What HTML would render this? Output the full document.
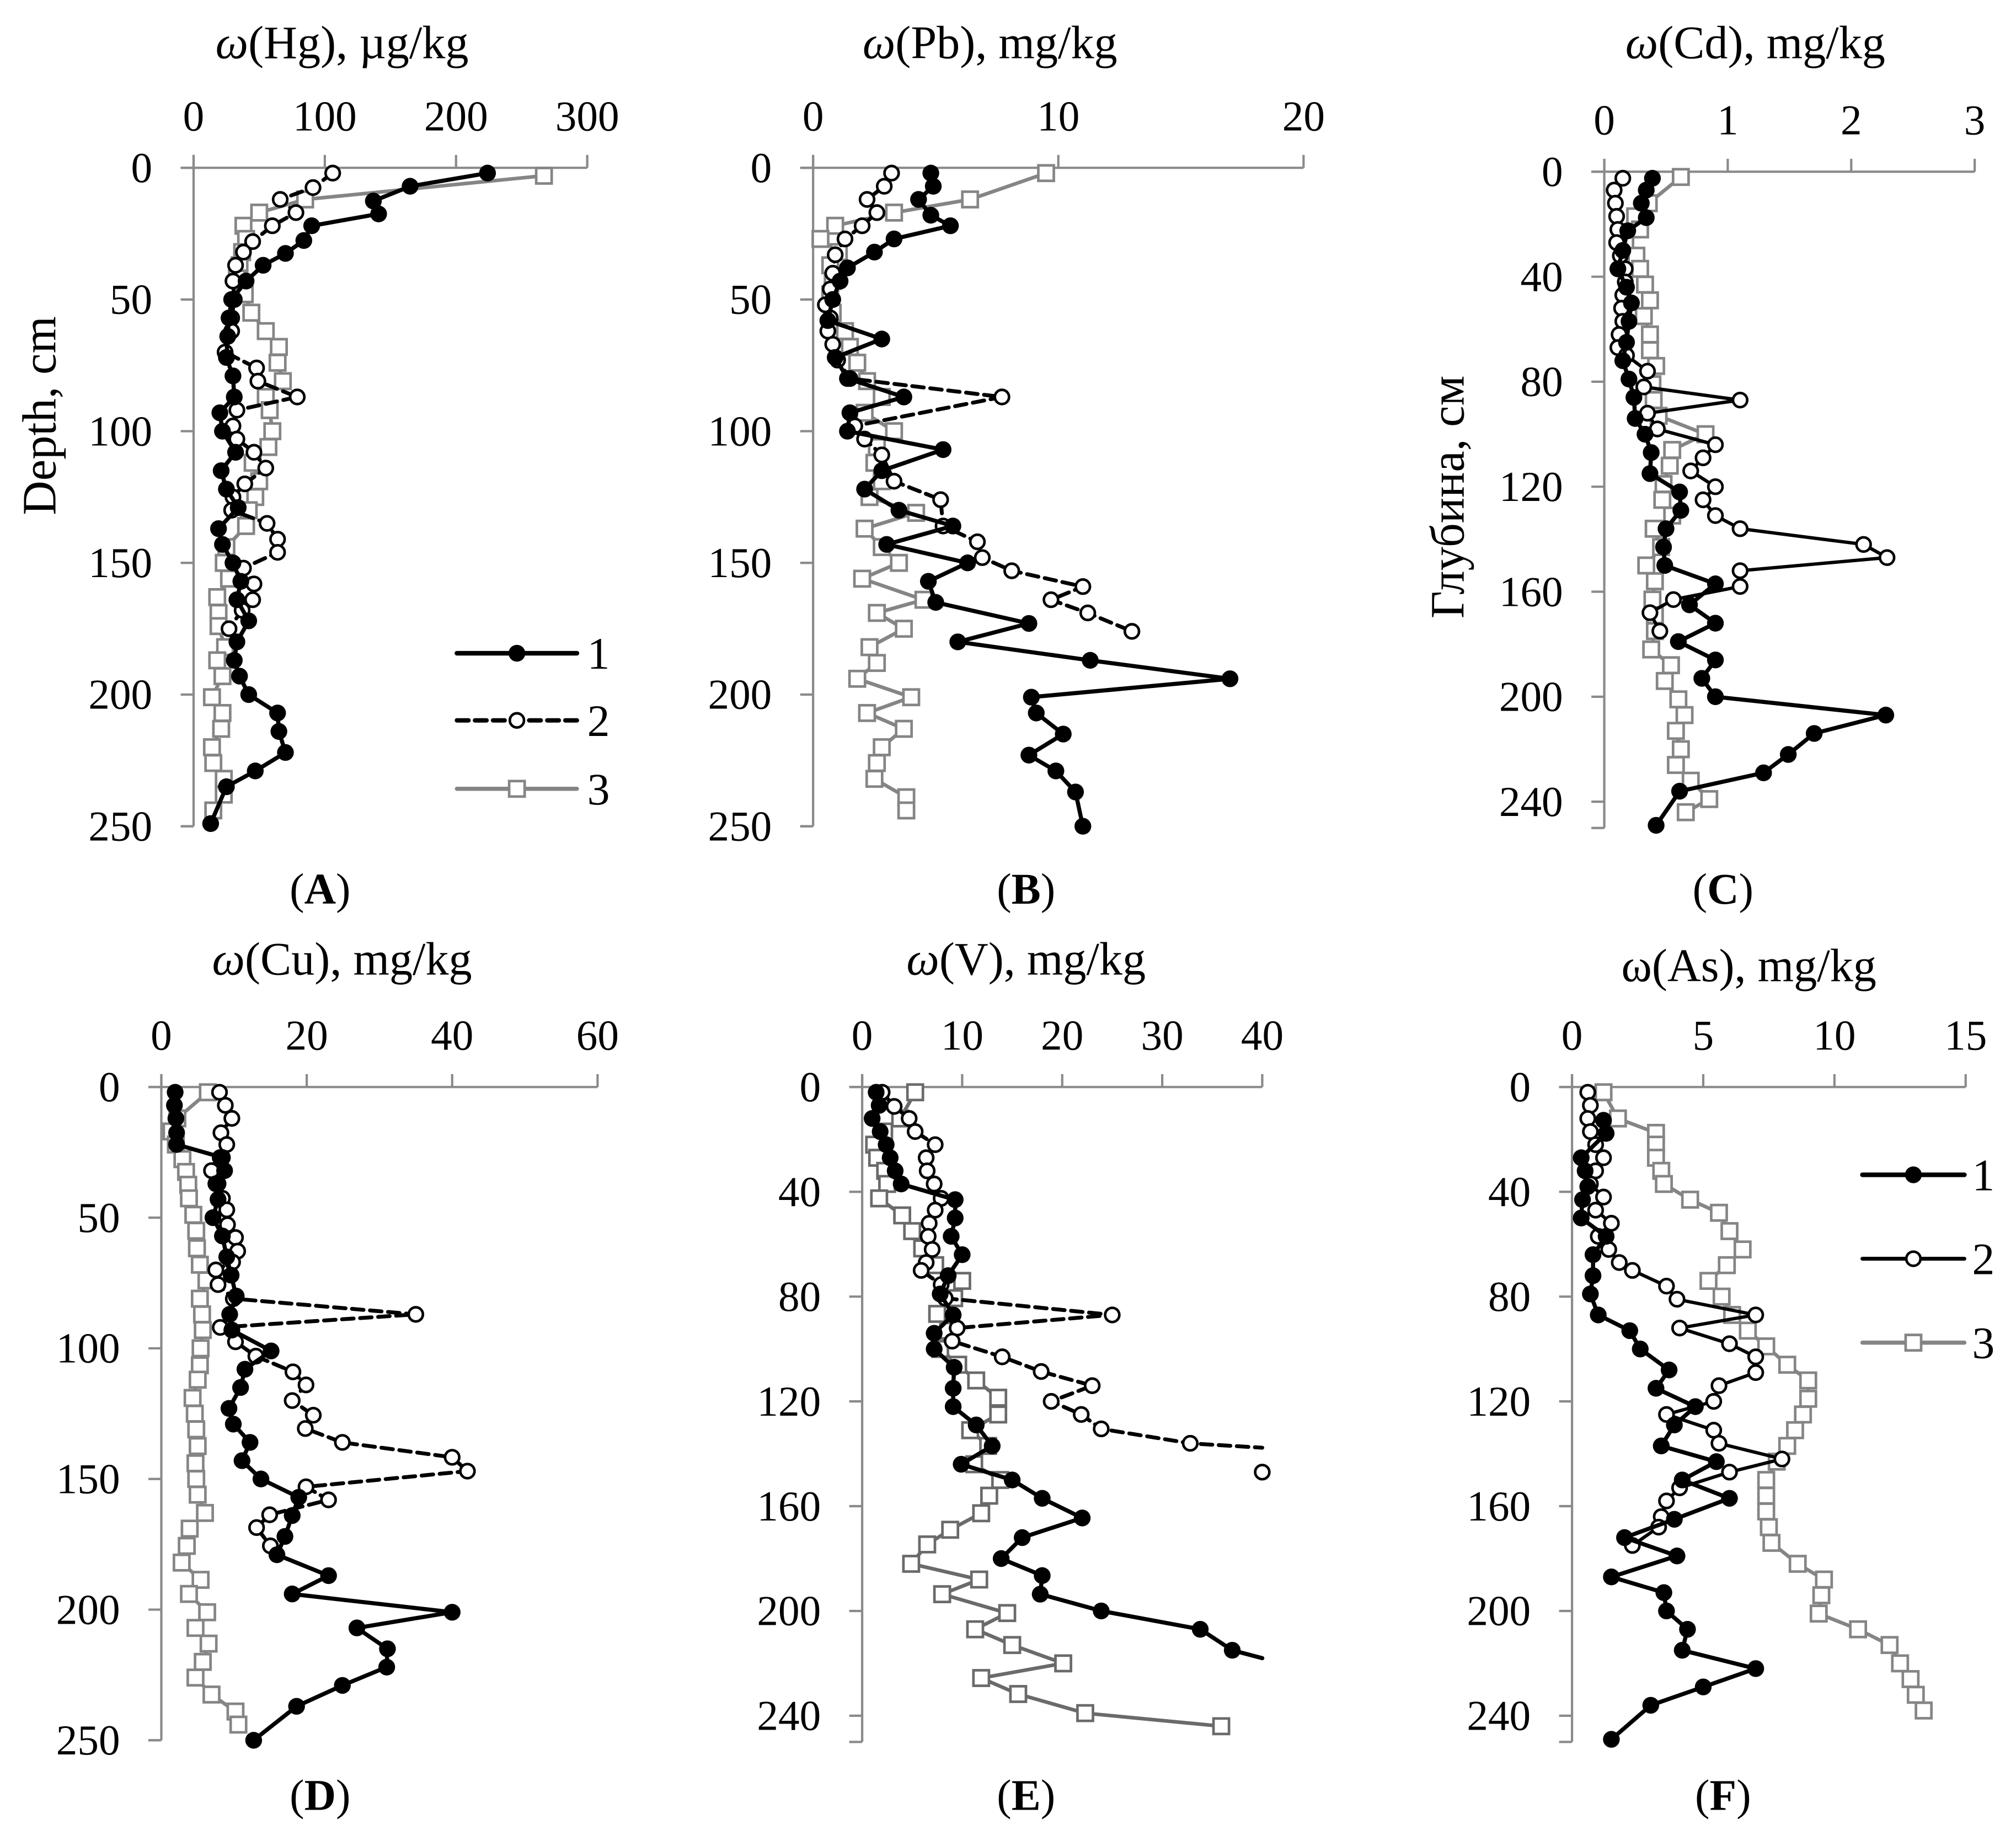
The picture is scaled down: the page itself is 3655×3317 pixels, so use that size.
<!DOCTYPE html>
<html><head><meta charset="utf-8">
<style>
html,body{margin:0;padding:0;background:#fff;}
svg{display:block;}
text{font-family:"Liberation Serif","Noto Serif CJK SC",serif;fill:#000;}
</style></head>
<body>
<svg id="fig" width="3655" height="3317" viewBox="0 0 1562 1417.5" preserveAspectRatio="none" xmlns="http://www.w3.org/2000/svg"></svg>
<script>
// ---- data: [value, depth] ----
const hg1=[[224,2],[165,7],[137,12.6],[141,17.5],[90,22],[84,27.6],[70,32.5],[53,37],[40,43],[29,50],[27,57],[26,64],[25,72],[30,79],[31,87],[20,93],[22,100],[32,108],[21,115],[25,122],[34,129],[19,137],[22,143],[30,150],[36,157],[33,164],[42,172],[33,180],[31,187],[35,193],[42,200],[64,207],[65,214],[70,222],[47,229],[25,235],[13,249]];
const hg2=[[106,2],[91,7.5],[66,12],[78,17],[60,22],[45,28],[38,32],[32,37],[30,43],[31,50],[29,57],[29,62],[24,70],[48,76],[49,81],[79,87],[33,92],[30,98],[33,103],[46,108],[55,114],[39,120],[30,125],[29,130],[56,135],[64,141],[64,146],[38,152],[46,158],[45,164],[37,168],[27,175]];
const hg3=[[267,3],[85,12],[50,17],[38,22],[40,27],[37,32],[35,37],[33,42],[39,48],[44,55],[55,62],[65,68],[64,74],[68,81],[55,87],[58,92],[60,100],[57,106],[45,112],[50,119],[47,125],[42,130],[40,136],[25,144],[23,150],[27,156],[18,163],[19,169],[19,174],[24,182],[18,187],[22,193],[14,201],[22,207],[21,213],[14,220],[15,226],[23,232],[23,238],[15,244]];
const pb1=[[4.8,2],[4.9,7],[4.3,12],[4.8,18],[5.6,22],[3.3,27],[2.5,32],[1.4,38],[1.1,43],[0.8,50],[0.6,58],[2.8,65],[0.9,72],[1.4,80],[3.7,87],[1.5,93],[1.4,100],[5.3,107],[2.8,115],[2.1,122],[3.5,130],[5.7,136],[3.0,143],[6.3,150],[4.7,157],[5.0,165],[8.8,173],[5.9,180],[11.3,187],[17.0,194],[8.9,201],[9.1,207],[10.2,215],[8.8,223],[9.9,229],[10.7,237],[11.0,250]];
const pb2=[[3.2,2],[2.9,7],[2.2,12],[2.6,17],[2.0,22],[1.3,27],[0.9,33],[0.8,40],[0.7,46],[0.5,52],[0.7,57],[0.6,62],[0.8,67],[1.0,73],[1.5,80],[7.7,87],[1.7,98],[2.1,103],[2.8,109],[3.3,119],[5.2,126],[5.3,136],[6.7,142],[6.9,148],[8.1,153],[11.0,159],[9.7,164],[11.2,169],[13.0,176]];
const pb3=[[9.5,2],[6.4,12],[3.3,17],[0.9,22],[0.3,27],[1.05,32],[0.7,37],[0.8,43],[0.7,48],[0.8,55],[1.3,62],[1.5,68],[1.8,74],[2.2,81],[2.8,87],[2.1,93],[3.3,100],[2.6,106],[2.5,112],[2.8,119],[2.3,125],[4.2,131],[2.1,137],[2.8,144],[3.5,150],[2.0,156],[4.5,164],[2.6,169],[3.7,175],[2.3,182],[2.6,188],[1.8,194],[4.0,201],[2.2,207],[3.7,213],[2.8,220],[2.6,226],[2.5,232],[3.8,239],[3.8,244]];
const cd1=[[0.39,2.5],[0.34,7],[0.30,12],[0.34,17.5],[0.19,22.5],[0.15,30],[0.11,37],[0.18,44],[0.22,50],[0.2,57],[0.18,65],[0.15,72],[0.2,79],[0.24,86],[0.25,94],[0.33,100],[0.38,107],[0.37,115],[0.61,122],[0.62,129],[0.5,136],[0.48,143],[0.49,150],[0.9,157],[0.69,165],[0.9,172],[0.6,179],[0.9,186],[0.79,193],[0.9,200],[2.28,207],[1.7,214],[1.49,222],[1.29,229],[0.61,236],[0.42,249]];
const cd2=[[0.15,2.5],[0.08,7],[0.09,12],[0.1,17],[0.11,22],[0.1,27],[0.13,32],[0.17,37],[0.17,42],[0.15,47],[0.14,52],[0.15,57],[0.12,62],[0.11,67],[0.18,70],[0.35,76],[0.32,82],[1.1,87],[0.35,92],[0.43,98],[0.9,104],[0.8,109],[0.7,114],[0.9,120],[0.8,125],[0.9,131],[1.1,136],[2.1,142],[2.29,147],[1.1,152],[1.1,158],[0.56,163],[0.37,168],[0.45,175]];
const cd3=[[0.62,2],[0.36,12],[0.25,17],[0.29,22],[0.17,27],[0.26,32],[0.29,37],[0.33,43],[0.37,49],[0.32,55],[0.37,62],[0.37,68],[0.42,74],[0.39,81],[0.4,87],[0.44,93],[0.82,100],[0.55,106],[0.53,112],[0.48,119],[0.47,125],[0.55,131],[0.4,136],[0.46,143],[0.34,150],[0.41,156],[0.39,163],[0.41,169],[0.41,175],[0.38,182],[0.54,188],[0.49,194],[0.6,201],[0.65,207],[0.58,213],[0.62,220],[0.58,226],[0.7,232],[0.85,239],[0.66,244]];
const cu1=[[1.9,2],[1.8,7],[2.0,12],[2.1,17.5],[2.1,22],[8.4,27],[8.7,32],[7.5,37],[7.8,43],[7.1,50],[8.4,57],[9.0,65],[9.6,72],[10.3,80],[9.4,87],[9.7,93],[15.1,101],[11.5,108],[10.9,115],[9.3,123],[9.9,129],[12.2,136],[11.1,143],[13.7,150],[18.9,157],[18.0,164],[17.0,172],[15.9,179],[23.0,187],[18.0,194],[40,201],[26.9,207],[31.1,215],[31,222],[24.9,229],[18.6,237],[12.7,250]];
const cu2=[[8.0,2],[8.8,7],[9.7,12],[8.2,17.5],[9.0,22],[8.1,27],[6.9,32],[7.8,37],[8.4,42.6],[9.0,47],[9.1,52.7],[10.2,57.6],[10.5,62.8],[9.8,67],[7.5,70],[7.8,75.6],[9.9,81],[35,87],[8.1,92],[10.2,97.5],[13.0,103],[18.1,109],[19.9,114],[18.0,120],[20.9,125.6],[19.8,130.7],[24.9,136],[40,141.7],[42.1,147],[19.9,153],[23.0,158],[14.9,163.7],[13.1,168.6],[15,175.6]];
const cu3=[[6.4,2],[2.2,12],[1.4,17],[2.0,22],[2.9,27.6],[3.4,32.5],[3.7,37.4],[3.8,42.6],[4.4,48.9],[4.8,55],[4.9,61.7],[5.3,68],[6.2,74],[5.3,81],[5.6,87],[5.7,93],[5.4,100],[5.3,106.5],[5.0,112],[4.3,119],[4.6,125],[4.8,131],[5.0,137.4],[4.7,144],[4.8,150],[5.0,156],[6.0,163],[3.9,169],[3.5,175.6],[2.8,182],[5.4,188.6],[3.8,194],[6.3,201],[4.7,207],[6.5,213],[5.7,220],[4.7,226],[6.9,232.5],[10.2,239],[10.6,244]];
const v1=[[1.4,2],[1.7,7],[1.0,12],[1.8,17],[2.4,22],[2.8,27],[3.3,32],[3.9,37],[9.3,43],[9.3,50],[8.9,57],[10,64],[8.6,72],[7.8,79],[9.1,87],[7.2,94],[7.2,100],[9.2,107],[9.1,115],[9.1,122],[11.4,129],[13.0,137],[9.9,144],[15,150],[18,157],[22,164.5],[16,172],[13.9,180],[18,186.5],[17.8,193.6],[23.9,200],[33.8,207],[37,215],[40,218,0]];
const v2=[[2.0,2],[3.2,7.4],[4.7,12],[5.3,17],[7.3,22],[6.4,27],[6.5,32],[7.2,37],[7.9,42.5],[7.3,47],[6.7,52],[6.6,57],[7.0,62],[6.4,67],[5.9,70],[7.9,75.4],[8.3,80.6],[25,87],[9.5,92],[9.0,97],[14,103],[17.9,108.6],[23,114],[18.9,120],[21.9,125],[23.9,130.5],[32.8,136],[40,137.7,0],null,[40,147]];
const v3=[[5.3,2],[3.8,12],[2.2,17],[1.2,22],[1.5,27],[2.3,32],[2.5,37],[1.7,42.5],[4.0,49],[5.0,55],[6.0,61.6],[7.3,68],[10,74],[9.2,80.6],[7.5,86.6],[8.6,93],[7.8,100],[9.6,106],[11.4,112],[13.6,118.6],[13.6,125],[10.8,131],[12.6,137],[11.2,144],[13.8,150],[12.7,156],[11.9,162.7],[8.8,169],[6.5,174.6],[4.9,182],[11.7,188],[8.0,193.6],[14.5,200.8],[11.3,207],[15,213],[20.1,220],[11.9,225.6],[15.6,231.7],[22.3,239],[35.9,244]];
const as1=[[1.2,12.7],[1.3,17.7],[0.35,27],[0.5,32],[0.6,38],[0.4,43],[0.35,50],[1.3,57],[0.8,64],[0.8,72],[0.7,79],[1.0,87],[2.2,93],[2.6,100],[3.7,108],[3.2,115],[4.7,122],[3.9,129],[3.4,137],[5.5,143],[4.2,150],[6.0,157],[3.9,165],[2.0,172],[4.0,179],[1.5,187],[3.5,193],[3.6,200],[4.4,207],[4.2,215],[7.0,222],[5.0,229],[3.0,236],[1.5,249]];
const as2=[[0.6,2],[0.7,7],[0.6,12],[0.7,17],[0.9,22],[1.2,27],[0.9,32],[0.7,37],[1.2,42],[0.9,47],[1.5,52],[1.0,57],[1.4,62],[1.8,67],[2.3,70],[3.6,76],[4.0,81],[7.0,87],[4.1,92],[6.0,98],[7.0,103],[7.0,109],[5.6,114],[5.4,120],[3.6,125],[5.4,131],[5.6,136],[8.0,142],[6.0,147],[4.1,153],[3.6,158],[3.4,164],[3.3,168],[2.3,175]];
const as3=[[1.2,2],[1.75,12],[3.2,17.5],[3.2,22],[3.2,27],[3.4,32],[3.5,37],[4.5,43],[5.6,48],[6.0,55],[6.5,62],[5.9,68],[5.2,74],[5.7,80],[6.1,87],[6.7,93],[7.4,99],[8.2,106],[9.0,112],[9.0,119],[8.8,125],[8.5,131],[8.2,137],[7.8,143],[7.4,150],[7.4,156],[7.4,162],[7.5,168],[7.6,174],[8.6,182],[9.6,188],[9.5,194],[9.4,201],[10.9,207],[12.1,213],[12.5,220],[12.9,226],[13.1,232],[13.4,238]];

const hgTicks=[0,100,200,300], pbTicks=[0,10,20], cdTicks=[0,1,2,3], cuTicks=[0,20,40,60], vTicks=[0,10,20,30,40], asTicks=[0,5,10,15];
const depthTicks50=[0,50,100,150,200,250], depthTicks40=[0,40,80,120,160,200,240];

const NS='http://www.w3.org/2000/svg';
const svg=document.getElementById('fig');
function mk(tag,attrs,parent){const e=document.createElementNS(NS,tag);for(const k in attrs)e.setAttribute(k,attrs[k]);(parent||svg).appendChild(e);return e;}
function txt(s,x,y,size,anchor,parent){const t=mk('text',{x:x,y:y,'font-size':size,'text-anchor':anchor||'middle'},parent);t.textContent=s;return t;}

const AX='#8a8a8a';
const styles={
 s1:{stroke:'#000',w:3.2,dash:null,marker:'fc'},
 s2d:{stroke:'#000',w:3.0,dash:'9 5',marker:'oc'},
 s2s:{stroke:'#000',w:2.6,dash:null,marker:'oc'},
 s3:{stroke:'#858585',w:2.8,dash:null,marker:'sq'},
 s3d:{stroke:'#6a6a6a',w:2.8,dash:null,marker:'sq'}
};
function marker(g,type,x,y,col){
 let m;
 if(type==='fc'){m=mk('circle',{cx:x,cy:y,r:6.5,fill:'#000'},g);}
 else if(type==='oc'){m=mk('circle',{cx:x,cy:y,r:5.5,fill:'#fff',stroke:'#000','stroke-width':2},g);}
 else {m=mk('rect',{x:x-6,y:y-6,width:12,height:12,fill:'#fff',stroke:col,'stroke-width':2},g);}
 
 
}
function panel(o){
 const g=mk('g',{});
 
 
 const xs=v=>o.x0+(v/o.xmax)*(o.x1-o.x0);
 const ys=d=>o.y0+(d/o.dref)*(o.yref-o.y0);
 const yEnd=ys(250);
 const xa=mk('line',{x1:o.x0-10,y1:o.y0,x2:o.x1,y2:o.y0,stroke:AX,'stroke-width':1.8},g);
 
 const ya=mk('line',{x1:o.x0,y1:o.y0-10,x2:o.x0,y2:yEnd,stroke:AX,'stroke-width':1.8},g);
 
 o.xticks.forEach(v=>{const X=xs(v);mk('line',{x1:X,y1:o.y0-10,x2:X,y2:o.y0,stroke:AX,'stroke-width':1.8},g);
  const t=txt(String(v),X,o.y0-29,33,'middle',g);});
 o.yticks.forEach(d=>{const Y=ys(d);mk('line',{x1:o.x0-10,y1:Y,x2:o.x0,y2:Y,stroke:AX,'stroke-width':1.8},g);
  const t=txt(String(d),o.x0-32,Y+11,33,'end',g);});
 mk('line',{x1:o.x0-10,y1:yEnd,x2:o.x0,y2:yEnd,stroke:AX,'stroke-width':1.8},g);
 const tt=mk('text',{x:o.tx,y:o.ty,'font-size':36,'text-anchor':'middle'},g);
 
 if(o.italic){const a=mk('tspan',{'font-style':'italic'},tt);a.textContent='ω';const b=mk('tspan',{},tt);b.textContent=o.title;}
 else{tt.textContent='ω'+o.title;}
 const pl=mk('text',{x:o.lx,y:o.ly,'font-size':34,'text-anchor':'middle'},g);
 
 const p1=mk('tspan',{},pl);p1.textContent='(';
 const p2=mk('tspan',{'font-weight':'bold'},pl);p2.textContent=o.letter;
 const p3=mk('tspan',{},pl);p3.textContent=')';
 o.series.forEach(s=>{
  const st=styles[s.style];
  const sg=mk('g',{},g);
  
  
  let segs=[[]];
  s.data.forEach(p=>{if(p===null){segs.push([]);}else segs[segs.length-1].push(p);});
  segs.forEach(seg=>{
   if(seg.length>1){
    const pts=seg.map(p=>xs(p[0]).toFixed(1)+','+ys(p[1]).toFixed(1)).join(' ');
    const a={points:pts,fill:'none',stroke:st.stroke,'stroke-width':st.w,'stroke-linejoin':'round','stroke-linecap':'round'};
    if(st.dash)a['stroke-dasharray']=st.dash;
    const pl=mk('polyline',a,sg);
    
   }
  });
  s.data.forEach(p=>{if(p&&p[2]!==0)marker(sg,st.marker,xs(p[0]),ys(p[1]),st.stroke);});
 });
 return g;
}
function legend(x1,x2,ys,lx,items){
 const g=mk('g',{});
 
 
 items.forEach((it,i)=>{
  const st=styles[it.style];const y=ys[i];
  const eg=mk('g',{},g);
  
  
  const a={x1:x1,y1:y,x2:x2,y2:y,stroke:st.stroke,'stroke-width':st.w+0.4,'stroke-linecap':'round'};
  if(st.dash)a['stroke-dasharray']=st.dash;
  mk('line',a,eg);
  marker(eg,st.marker,(x1+x2)/2,y,st.stroke);
  txt(it.label,lx,y+12,35,'start',eg);
 });
}

panel({name:'panel-a-hg',x0:150,x1:455,xmax:300,xticks:hgTicks,y0:130,yref:640,dref:250,yticks:depthTicks50,title:'(Hg), µg/kg',italic:true,tx:265,ty:45,letter:'A',lx:248,ly:700,
 series:[{name:'series-3',style:'s3',data:hg3},{name:'series-2',style:'s2d',data:hg2},{name:'series-1',style:'s1',data:hg1}]});
panel({name:'panel-b-pb',x0:630,x1:1010,xmax:20,xticks:pbTicks,y0:130,yref:640,dref:250,yticks:depthTicks50,title:'(Pb), mg/kg',italic:true,tx:767,ty:45,letter:'B',lx:795,ly:700,
 series:[{name:'series-3',style:'s3',data:pb3},{name:'series-2',style:'s2d',data:pb2},{name:'series-1',style:'s1',data:pb1}]});
panel({name:'panel-c-cd',x0:1243,x1:1530,xmax:3,xticks:cdTicks,y0:133,yref:621,dref:240,yticks:depthTicks40,title:'(Cd), mg/kg',italic:true,tx:1360,ty:45,letter:'C',lx:1335,ly:700,
 series:[{name:'series-3',style:'s3',data:cd3},{name:'series-2',style:'s2s',data:cd2},{name:'series-1',style:'s1',data:cd1}]});
panel({name:'panel-d-cu',x0:125,x1:463,xmax:60,xticks:cuTicks,y0:842,yref:1348,dref:250,yticks:depthTicks50,title:'(Cu), mg/kg',italic:true,tx:265,ty:755,letter:'D',lx:248,ly:1402,
 series:[{name:'series-3',style:'s3',data:cu3},{name:'series-2',style:'s2d',data:cu2},{name:'series-1',style:'s1',data:cu1}]});
panel({name:'panel-e-v',x0:668,x1:978,xmax:40,xticks:vTicks,y0:842,yref:1329,dref:240,yticks:depthTicks40,title:'(V), mg/kg',italic:true,tx:795,ty:755,letter:'E',lx:795,ly:1402,
 series:[{name:'series-3',style:'s3d',data:v3},{name:'series-2',style:'s2d',data:v2},{name:'series-1',style:'s1',data:v1}]});
panel({name:'panel-f-as',x0:1218,x1:1523,xmax:15,xticks:asTicks,y0:842,yref:1329,dref:240,yticks:depthTicks40,title:'(As), mg/kg',italic:false,tx:1355,ty:760,letter:'F',lx:1335,ly:1402,
 series:[{name:'series-3',style:'s3',data:as3},{name:'series-2',style:'s2s',data:as2},{name:'series-1',style:'s1',data:as1}]});

const yt1=mk('text',{x:0,y:0,'font-size':37,'text-anchor':'middle',transform:'translate(43,322) rotate(-90)'});
yt1.textContent='Depth, cm';


const yt2=mk('text',{x:0,y:0,'font-size':37,'text-anchor':'middle',transform:'translate(1134,385) rotate(-90)'});
yt2.textContent='Глубина, см';



legend(354,447,[506,558,611],455,[{style:'s1',label:'1'},{style:'s2d',label:'2'},{style:'s3',label:'3'}]);
legend(1443,1522,[910,975,1040],1528,[{style:'s1',label:'1'},{style:'s2s',label:'2'},{style:'s3',label:'3'}]);
</script>
</body></html>
